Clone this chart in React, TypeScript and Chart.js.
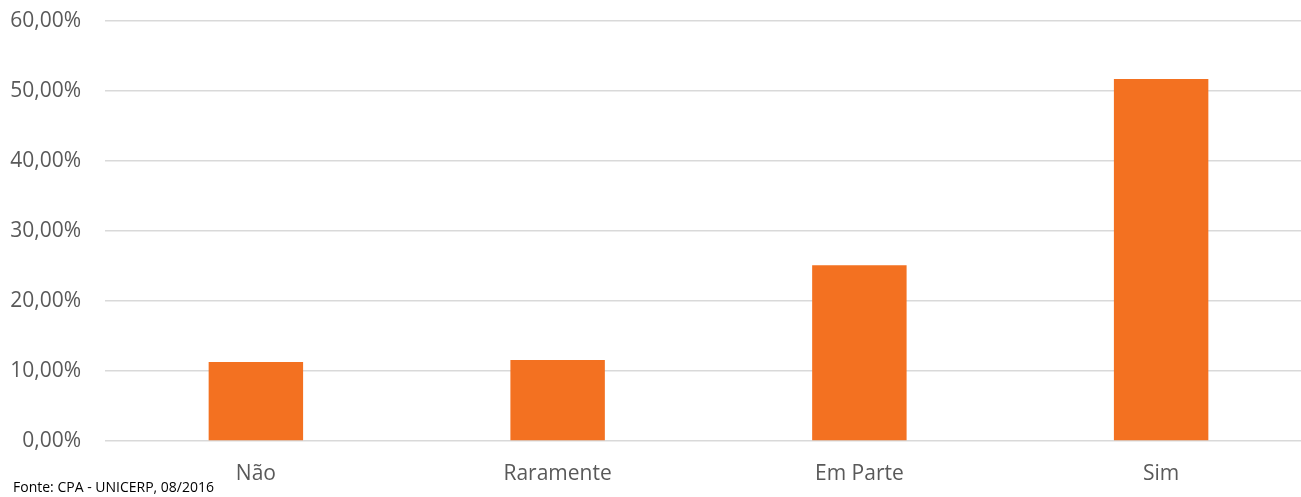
import React, { useEffect, useRef } from "react";
import { Chart, registerables } from "chart.js";

Chart.register(...registerables);

const categories = ["Não", "Raramente", "Em Parte", "Sim"];
const values = [11.3, 11.57, 25.1, 51.7];
const yTicks = [0, 10, 20, 30, 40, 50, 60];
const source = "Fonte: CPA - UNICERP, 08/2016";

export default function App() {
  const ref = useRef<HTMLCanvasElement | null>(null);

  useEffect(() => {
    if (!ref.current) return;
    const chart = new Chart(ref.current, {
      type: "bar",
      data: {
        labels: categories,
        datasets: [
          {
            data: values,
            backgroundColor: "#F37121",
            borderWidth: 0,
            categoryPercentage: 1,
            barPercentage: 0.313,
          },
        ],
      },
      options: {
        animation: false,
        responsive: false,
        maintainAspectRatio: false,
        layout: { padding: { top: 21, right: 8, left: 0, bottom: 0 } },
        plugins: { legend: { display: false }, tooltip: { enabled: false } },
        scales: {
          x: {
            grid: { display: false, drawTicks: false },
            border: { display: false },
            ticks: {
              color: "#595959",
              font: { family: "Open Sans", size: 21 },
              padding: 20,
            },
            afterFit: (s: any) => {
              s.height = 56;
            },
          },
          y: {
            min: 0,
            max: 60,
            afterBuildTicks: (s: any) => {
              s.ticks = yTicks.map((v) => ({ value: v }));
            },
            grid: { color: "#D9D9D9", lineWidth: 1.5, drawTicks: false },
            border: { display: false },
            ticks: {
              color: "#595959",
              font: { family: "Open Sans", size: 21 },
              padding: 24,
              callback: (v: any) => Number(v).toFixed(2).replace(".", ",") + "%",
            },
            afterFit: (s: any) => {
              s.width = 105;
              s.paddingTop = 0;
              s.paddingBottom = 0;
            },
          },
        },
      },
    });
    return () => chart.destroy();
  }, []);

  return (
    <div
      style={{
        position: "fixed",
        left: 0,
        top: 0,
        width: 1301,
        height: 497,
        overflow: "hidden",
        background: "#fff",
      }}
    >
      <canvas ref={ref} width={1320} height={497} style={{ display: "block" }} />
      <div
        style={{
          position: "absolute",
          left: 13,
          top: 478,
          fontFamily: "Open Sans",
          fontSize: 14,
          color: "#000",
          lineHeight: "18px",
          whiteSpace: "nowrap",
        }}
      >
        {source}
      </div>
    </div>
  );
}
